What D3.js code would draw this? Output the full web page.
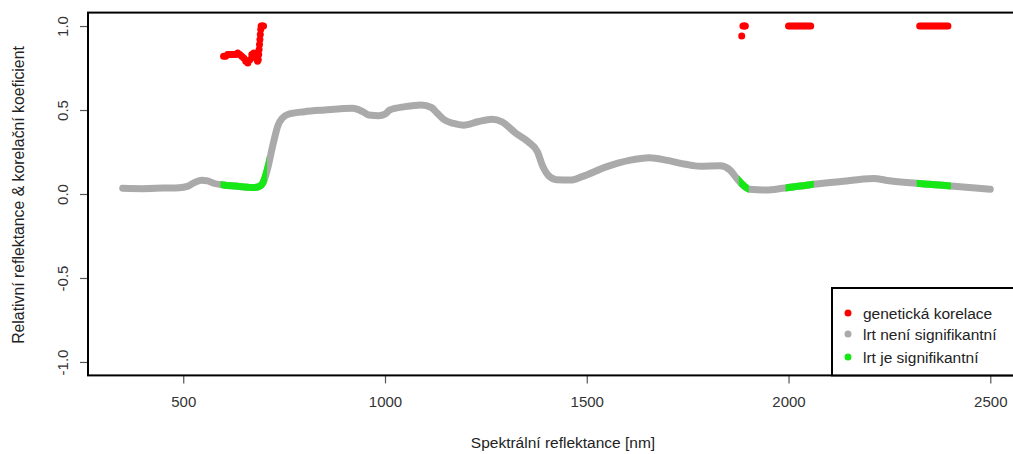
<!DOCTYPE html>
<html>
<head>
<meta charset="utf-8">
<script src="https://cdn.jsdelivr.net/npm/d3@7"></script>
<style>
  html, body { margin: 0; padding: 0; background: #fff; }
  svg { display: block; font-family: "Liberation Sans", Arial, sans-serif; }
</style>
</head>
<body>
<svg id="chart" width="1013" height="454"></svg>
<script>
// Relative reflectance spectrum (wavelength in nm, value)
const spectrumNm = [350, 400, 450, 490, 510, 525, 545, 560, 575, 600, 630, 660, 675, 690, 700, 710, 722, 735, 745, 760,
  800, 850, 920, 945, 960, 985, 1000, 1012, 1050, 1090, 1115, 1130, 1145, 1170, 1195, 1230, 1265, 1290, 1325, 1355,
  1378, 1390, 1405, 1425, 1460, 1490, 1550, 1605, 1655, 1700, 1745, 1780, 1830, 1855, 1871, 1887, 1904, 1945, 1985,
  2050, 2125, 2210, 2250, 2315, 2395, 2500];
const spectrumVal = [0.034, 0.032, 0.035, 0.037, 0.045, 0.065, 0.082, 0.078, 0.064, 0.054, 0.047, 0.040, 0.038, 0.047, 0.080, 0.160, 0.290, 0.410, 0.450, 0.475,
  0.490, 0.500, 0.510, 0.490, 0.470, 0.466, 0.475, 0.500, 0.520, 0.530, 0.515, 0.480, 0.445, 0.420, 0.410, 0.430, 0.445, 0.430, 0.360, 0.310,
  0.250, 0.170, 0.110, 0.085, 0.083, 0.105, 0.163, 0.200, 0.216, 0.200, 0.177, 0.165, 0.168, 0.143, 0.095, 0.054, 0.028, 0.024, 0.034,
  0.054, 0.073, 0.093, 0.079, 0.064, 0.049, 0.028];

// Wavelength ranges where the LRT is significant
const significantRanges = [[600, 700], [1884, 1894], [2000, 2055], [2325, 2395]];

// Genetic correlation at the significant wavelengths
const corrNm = [600, 605, 610, 615, 620, 625, 630, 635, 640, 645, 650, 655, 660, 665, 670, 675, 680, 684, 686, 687, 688, 689, 690, 691, 692, 693, 696, 699,
  1884, 1887, 1890, 1893,
  2000, 2005, 2010, 2015, 2020, 2025, 2030, 2035, 2040, 2045, 2050, 2055,
  2325, 2330, 2335, 2340, 2345, 2350, 2355, 2360, 2365, 2370, 2375, 2380, 2385, 2390, 2395];
const corrVal = [0.82, 0.82, 0.83, 0.83, 0.83, 0.83, 0.83, 0.84, 0.83, 0.82, 0.81, 0.79, 0.78, 0.80, 0.83, 0.84, 0.81, 0.79, 0.80, 0.83, 0.86, 0.89, 0.92, 0.95, 0.98, 1.00, 1.00, 1.00,
  0.94, 1.00, 1.00, 1.00,
  1.00, 1.00, 1.00, 1.00, 1.00, 1.00, 1.00, 1.00, 1.00, 1.00, 1.00, 1.00,
  1.00, 1.00, 1.00, 1.00, 1.00, 1.00, 1.00, 1.00, 1.00, 1.00, 1.00, 1.00, 1.00, 1.00, 1.00];

const xTicks = [500, 1000, 1500, 2000, 2500];
const yTicks = [-1.0, -0.5, 0.0, 0.5, 1.0];
const xTitle = "Spektrální reflektance [nm]";
const yTitle = "Relativní reflektance & korelační koeficient";
const legendLabels = ["genetická korelace", "lrt není signifikantní", "lrt je signifikantní"];
const legendColors = ["#ff0000", "#aaaaaa", "#16e816"];

const svg = d3.select("#chart");
const plot = { left: 88, right: 1025, top: 12.6, bottom: 375.4 };

// axis limits extended by 4% as in base R plots
const xDom = [350 - 0.04 * 2150, 2500 + 0.04 * 2150];
const yDom = [-1.08, 1.08];
const x = d3.scaleLinear().domain(xDom).range([plot.left, plot.right]);
const y = d3.scaleLinear().domain(yDom).range([plot.bottom, plot.top]);

const spectrum = spectrumNm.map((d, i) => [d, spectrumVal[i]]);
const line = d3.line().x(d => x(d[0])).y(d => y(d[1])).curve(d3.curveMonotoneX);

// gray spectrum
svg.append("path")
  .attr("d", line(spectrum))
  .attr("fill", "none")
  .attr("stroke", legendColors[1])
  .attr("stroke-width", 7)
  .attr("stroke-linecap", "round")
  .attr("stroke-linejoin", "round");

// green parts of the spectrum where the LRT is significant
const defs = svg.append("defs");
significantRanges.forEach((r, i) => {
  defs.append("clipPath").attr("id", "sig" + i)
    .append("rect")
    .attr("x", x(r[0]) - 3).attr("width", x(r[1]) - x(r[0]) + 6)
    .attr("y", 0).attr("height", 454);
  svg.append("path")
    .attr("d", line(spectrum))
    .attr("clip-path", `url(#sig${i})`)
    .attr("fill", "none")
    .attr("stroke", legendColors[2])
    .attr("stroke-width", 7)
    .attr("stroke-linejoin", "round");
});

// genetic correlation points
svg.append("g").selectAll("circle")
  .data(corrNm.map((d, i) => [d, corrVal[i]]))
  .join("circle")
  .attr("cx", d => x(d[0]))
  .attr("cy", d => y(d[1]))
  .attr("r", 3.5)
  .attr("fill", legendColors[0]);

// x axis
const xAxis = svg.append("g").attr("transform", `translate(0,${plot.bottom})`)
  .call(d3.axisBottom(x).tickValues(xTicks).tickSize(8).tickPadding(13).tickFormat(d3.format("d")));
xAxis.select(".domain").remove();
xAxis.selectAll("line").attr("stroke", "#555").attr("stroke-width", 1.2);
xAxis.selectAll("text").attr("font-size", 15).attr("fill", "#333");

// y axis, labels rotated parallel to the axis (plain hyphen for negatives)
const yAxis = svg.append("g").attr("transform", `translate(${plot.left},0)`)
  .call(d3.axisLeft(y).tickValues(yTicks).tickSize(8).tickFormat(d => d.toFixed(1)));
yAxis.select(".domain").remove();
yAxis.selectAll("line").attr("stroke", "#555").attr("stroke-width", 1.2);
yAxis.selectAll("text")
  .attr("font-size", 15).attr("fill", "#333")
  .attr("x", null).attr("y", null).attr("dy", null)
  .attr("text-anchor", "middle")
  .attr("transform", `translate(${68 - plot.left},0) rotate(-90)`);

// plot frame
svg.append("rect")
  .attr("x", plot.left).attr("y", plot.top)
  .attr("width", plot.right - plot.left).attr("height", plot.bottom - plot.top)
  .attr("fill", "none").attr("stroke", "#000").attr("stroke-width", 2);

// axis titles
svg.append("text")
  .attr("x", 563).attr("y", 448)
  .attr("text-anchor", "middle").attr("font-size", 15.5).attr("fill", "#222")
  .text(xTitle);
svg.append("text")
  .attr("transform", `translate(24,195) rotate(-90)`)
  .attr("text-anchor", "middle").attr("font-size", 15.8).attr("fill", "#222")
  .text(yTitle);

// legend
const legend = svg.append("g");
legend.append("rect")
  .attr("x", 832).attr("y", 288).attr("width", 200).attr("height", plot.bottom - 288)
  .attr("fill", "#fff").attr("stroke", "#000").attr("stroke-width", 2);
const rows = [313, 334, 357];
legendLabels.forEach((t, i) => {
  legend.append("circle").attr("cx", 848).attr("cy", rows[i]).attr("r", 3.5).attr("fill", legendColors[i]);
  legend.append("text").attr("x", 863).attr("y", rows[i] + 5.5)
    .attr("font-size", 15.5).attr("fill", "#222").text(t);
});
</script>
</body>
</html>
